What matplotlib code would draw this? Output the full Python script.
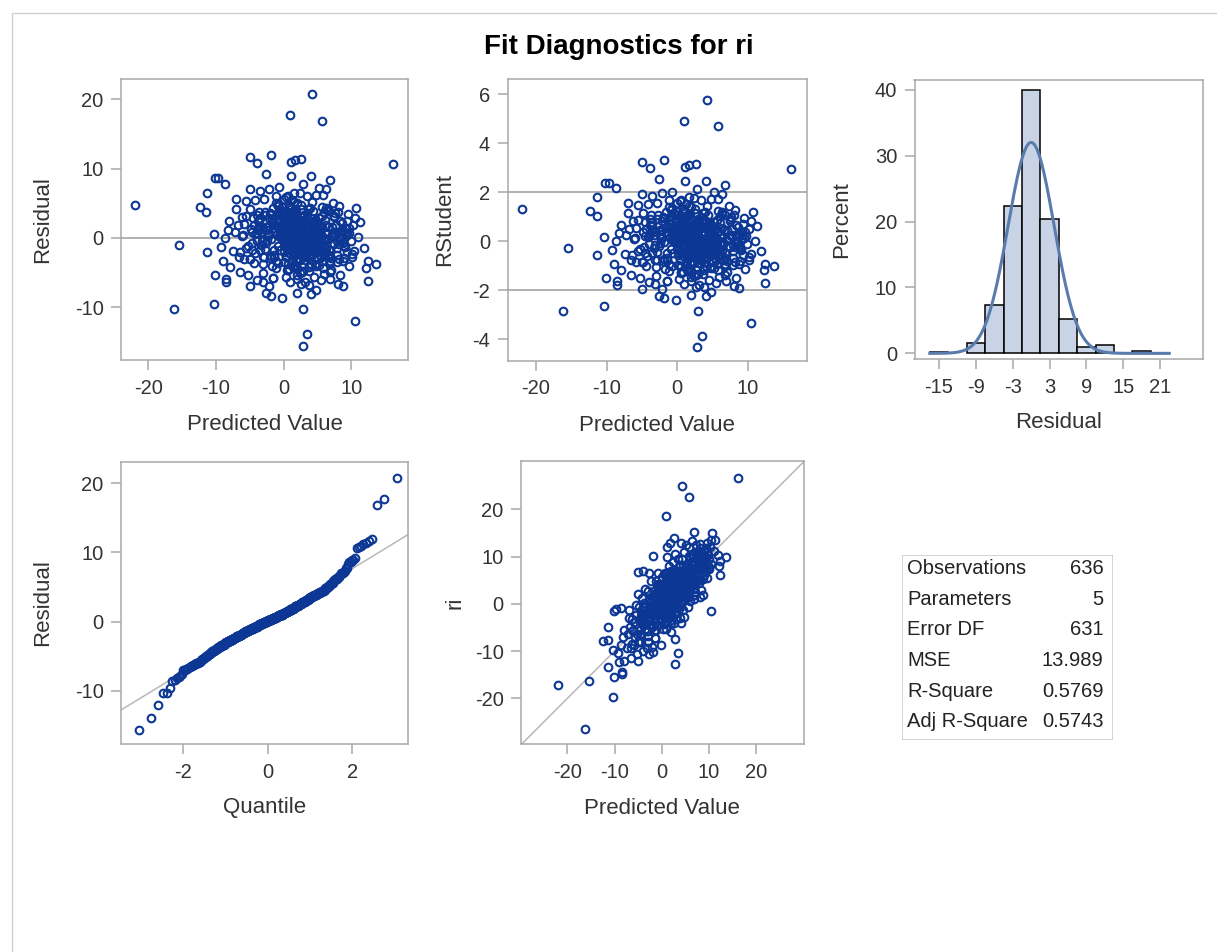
import numpy as np
import matplotlib.pyplot as plt
from matplotlib.patches import Rectangle
from statistics import NormalDist

# canvas in pixels
W, H, DPI = 1217, 952, 100

# points (outlying / ring points)
pred_outer = [4.2, 0.9, 5.7, 16.1, -21.9, -5.0, -3.9, -1.9, 1.1, 1.7, 2.6, -2.6, 1.1, 4.0, 6.8,
              -10.2, -9.7, -8.7, -11.3, -12.4, -11.4, -7.0, -5.0, -15.4, -10.3, -11.3, -9.2, -10.1,
              -8.5, -8.5, -5.0, -10.3, -16.2, -2.1, -2.6, -1.8, -0.2, 2.0, 2.9, 4.0, 4.8, 3.5, 2.8,
              10.5, 10.7, 9.5, 10.5, 11.3, 11.0, 11.8, 9.3, 12.4, 13.7, 12.2, 12.4, 8.7, 8.0, 6.9,
              6.3, 5.2, 2.8, -0.7, -2.2, -3.5, -5.5, -4.2, -7.0, -8.0, -8.2, -8.7, -9.0, -6.5, -5.3,
              -3.1, 0.9, 3.8, 6.8, 8.3, 8.7, 8.3, 9.0, 8.3, 6.3, 5.8, 4.8, 1.6,
              -6.8, -7.4, -6.2, -5.8, -7.9, -6.0, -5.6, -4.9, -6.6, -7.2,
              8.9, 9.6, 7.6, 9.9, 7.9, 10.2, 7.3, 9.2, 8.1, 10.1,
              -3.0, 0.3, 1.9, 4.5, 5.9, -1.5, -2.9, 0.4, 3.4, -1.2,
              5.5, 2.6, -4.0, -0.8, 4.2, 6.7, -3.7, -4.4]
resid_outer = [20.8, 17.7, 16.9, 10.6, 4.8, 11.7, 10.8, 12.0, 10.9, 11.2, 11.4, 9.2, 8.9, 8.9, 8.3,
               8.6, 8.6, 7.8, 6.5, 4.5, 3.7, 5.6, 7.0, -1.0, 0.6, -2.1, -1.3, -5.4,
               -5.9, -6.4, -7.0, -9.5, -10.3, -7.0, -8.0, -8.4, -8.6, -7.9, -10.3, -8.1, -7.5, -13.9, -15.6,
               -12.0, 4.3, 3.4, 2.9, 2.3, 0.1, -1.4, -2.1, -3.3, -3.7, -4.3, -6.2, -6.9, -6.6, -5.9,
               7.0, 7.2, 7.7, 7.3, 7.1, 6.7, 5.3, 5.4, 4.1, 2.4, 1.2, 0.0, -3.4, -4.9, -5.4,
               -6.3, -6.3, -6.8, -4.9, -5.4, -3.4, 0.9, 1.4, 2.4, 4.3, 6.2, 6.2, 6.5,
               1.8, -1.9, 3.0, -3.0, -4.2, 0.4, -1.5, 4.2, -2.8, 0.9,
               -1.2, -4.1, 3.6, -0.4, -2.4, 1.8, 5.1, 0.3, 4.6, -2.8,
               -5.1, -5.6, -5.9, -5.7, -5.2, -5.8, 5.6, 5.9, 6.0, 6.1,
               -6.1, -6.7, -6.0, 4.9, 5.2, 3.9, 3.8, -3.6]

# broad body of the cloud (estimated)
pred_mid = [-4.6, 7.9, -3.1, 8.6, -2.4, 6.8, -4.0, 9.1, -1.7, 7.4, -3.6, 8.2,
            5.9, -4.8, 7.1, -2.8, 8.9, -3.9, 6.4, -1.2, 7.7, -4.3, 9.4, -2.0,
            -3.3, 6.1, -4.9, 8.4, -2.6, 7.0, -3.8, 8.0, -1.5, 6.7, -4.2, 9.0,
            7.5, -3.0, 8.7, -4.5, 6.2, -2.2, 7.9, -3.5, 5.7, -1.9, 8.3, -4.7,
            0.5, 4.4, -0.8, 3.6, 1.4, 5.2, -0.2, 2.7, 6.0, 1.0, 4.8, -1.1,
            3.1, 0.2, 5.6, 2.0, -0.5, 4.1, 1.7, 6.5, 0.8, 3.9, -1.4, 2.4,
            -5.3, 9.7, -5.8, 10.1, -5.0, 9.3, -6.1, 8.8, -5.5, 10.4, -6.4, 9.6,
            1.9, 4.7, 0.1, 3.3, 5.1, 2.5, -0.9, 6.3, 1.2, 4.0, 2.9, 0.6]
resid_mid = [0.8, -1.5, -2.7, 2.1, 1.6, -3.4, -0.4, 0.9, -4.1, 3.0, 2.4, -0.9,
             -2.0, 1.3, 0.2, -1.6, -2.9, 3.3, 4.0, -4.4, 1.8, -2.2, 0.5, 3.6,
             -1.0, 2.6, -3.1, 0.0, -0.7, -4.6, 1.1, 3.8, 2.3, -2.5, 0.6, -1.3,
             3.2, -3.8, 1.0, 2.8, -0.3, 0.4, -3.5, -1.8, 4.4, -2.6, -0.2, -0.8,
             -4.7, 3.9, -3.6, 4.2, -4.2, -3.9, 3.4, -4.9, 3.7, 4.5, -4.0, -3.3,
             -3.2, 3.5, 3.1, -4.4, 4.1, -3.7, 3.9, -2.8, -4.5, 4.3, -2.4, -5.1,
             -1.1, 0.7, 2.0, -2.3, -3.0, 2.5, 0.3, -0.6, 3.1, -1.9, -2.1, 1.4,
             -3.0, 2.2, -2.0, -2.7, 1.9, 4.7, 2.7, -1.4, -3.4, 2.9, -4.8, 3.2]

# dense core of the cloud (estimated)
pred_core = [2.1, -1.4, 4.6, 0.3, 3.8, 1.2, 6.1, -2.7, 2.9, 0.8, 5.3, -0.6,
             3.4, 1.7, -3.2, 2.5, 7.0, 0.1, 4.1, 1.9, -1.1, 3.0, 5.8, 2.3,
             -0.2, 4.9, 1.5, 3.6, -2.1, 2.8, 6.6, 0.6, 3.3, -0.9, 1.0, 4.4,
             2.6, 7.6, -1.8, 1.3, 3.9, 0.4, 5.0, 2.0, -3.8, 4.2, 1.6, 3.1,
             0.9, 5.6, 2.4, -0.4, 3.7, 6.4, 1.1, -2.4, 2.7, 4.8, 0.2, 3.5,
             1.8, -1.6, 4.0, 2.2, 8.1, 0.5, 3.2, -0.8, 5.5, 1.4, 2.9, 6.9,
             -4.4, 2.0, 3.6, 0.7, 4.5, 1.9, -1.3, 5.2, 2.6, -0.1, 3.8, 7.3,
             1.2, 4.3, -2.9, 2.8, 0.0, 5.9, 3.1, 1.5, -0.5, 4.7, 2.3, 6.2,
             3.0, -1.9, 1.7, 4.1, 2.5, -3.5, 5.4, 0.8, 3.4, 1.0, 6.8, -0.3,
             2.2, 4.9, 0.3, 3.7, -2.2, 1.6, 5.1, 2.9, -1.0, 4.4, 0.6, 8.5,
             1.4, 3.3, -0.7, 6.0, 2.1, 4.6, -1.5, 0.9, 3.9, 2.4, 7.8, -2.6,
             0.4, 5.7, 2.7, -0.2, 4.2, 1.3, 3.5, 6.5, -3.0, 2.0, 4.0, 1.1,
             3.2, -1.2, 5.3, 0.1, 2.6, 4.8, 1.8, -4.0, 3.0, 7.1, 0.7, 2.4,
             -0.6, 4.5, 1.9, 3.6, 6.3, -2.0, 2.3, 0.5, 5.0, 1.5, -1.7, 3.8,
             2.8, 0.2, 4.1, -3.3, 1.7, 5.8, 3.1, -0.4, 2.2, 6.7, 1.0, 4.3,
             1.6, 3.4, -1.0, 2.5, 7.4, 0.8, 4.7, -2.5, 3.7, 1.2, 5.5, 0.0,
             4.0, -0.9, 2.9, 1.4, 6.0, -1.6, 3.3, 0.6, 5.2, 2.1, -4.6, 3.9,
             0.9, 2.7, 5.6, -0.3, 4.4, 1.8, -2.8, 3.0, 6.2, 2.4, 0.3, 4.9,
             2.0, -1.4, 3.5, 7.9, 1.1, 4.2, -0.7, 2.6, 5.0, 0.5, 3.2, -3.6,
             1.7, 4.6, 0.0, 2.9, -2.3, 5.4, 3.6, 1.3, 8.8, -1.1, 2.2, 4.1,
             2.4, 1.1, 3.6, 0.5, 2.9, 4.3, 1.8, 3.1, 0.2, 2.6, 4.9, 1.4,
             3.8, 0.7, 2.2, 5.1, 1.6, 3.4, -0.3, 2.8, 4.0, 1.0, 3.0, 2.0,
             0.9, 4.6, 2.5, 1.3, 3.7, 5.4, 0.4, 2.1, 3.3, 1.7, 4.4, -0.6,
             2.7, 3.9, 1.2, 0.0, 4.8, 2.3, 3.5, 1.9, 5.7, 0.6, 2.9, 4.1,
             1.5, 3.2, -0.9, 2.6, 4.5, 1.1, 3.6, 0.8, 2.4, 5.0, 1.8, 3.0,
             4.2, 0.3, 2.0, 3.8, 1.4, 6.0, 2.8, -0.4, 3.5, 1.6, 4.7, 2.2,
             0.7, 3.1, 5.3, 1.9, 2.5, 4.0, 1.0, 3.4]
resid_core = [0.4, -1.8, 2.6, -0.3, 1.1, -3.4, 0.9, 3.8, -0.7, -2.2, 1.7, 0.1,
              -1.2, 2.3, -0.5, 4.1, -2.9, 0.6, -1.5, 1.4, 3.1, -0.2, -4.3, 2.0,
              1.0, -0.8, -2.6, 0.3, 2.9, -1.1, 1.6, -3.7, 0.0, 4.6, -0.4, -1.9,
              -2.4, 0.7, 3.4, -1.6, 0.2, 1.9, -0.9, -3.1, 2.4, -0.1, 5.2, -1.3,
              2.1, -0.6, -1.9, 1.3, -4.8, 0.5, 3.6, -0.3, -2.0, 1.1, -1.0, 2.7,
              -0.2, 4.3, -1.4, 0.8, -3.0, 2.2, -0.7, 1.5, -2.7, 0.3, 3.0, -1.7,
              1.8, -3.3, 0.1, -1.0, 2.5, -5.3, 0.9, -0.5, 1.2, 3.9, -2.3, 0.4,
              -0.9, 1.6, -2.8, 0.6, 5.6, -1.2, 2.0, -3.9, 0.2, -0.4, 1.4, -2.1,
              3.3, -0.1, 1.0, -2.5, 0.7, 2.8, -1.6, 4.8, -0.8, 0.3, -3.6, 1.9,
              -1.5, 0.0, 2.4, -4.0, 1.7, -0.6, 0.5, -2.2, 3.5, -1.1, 6.0, 0.8,
              0.6, -2.0, 3.7, -0.3, -1.4, 1.2, -5.8, 2.3, 0.0, -3.2, 0.9, 1.5,
              -2.6, 0.2, 1.8, 4.4, -0.7, -1.9, 2.9, -0.2, 1.3, -4.5, 0.5, 3.2,
              0.0, 2.6, -1.1, -3.5, 1.0, -0.5, 4.0, 0.7, -2.4, 1.6, -0.9, 2.2,
              -1.8, 0.4, 5.0, -0.6, 1.9, -2.9, 0.8, 3.4, -1.3, -0.1, 2.7, -4.2,
              1.4, -0.4, -2.3, 0.9, 3.0, -1.0, -6.4, 1.8, 0.1, -1.7, 4.5, -0.8,
              -0.3, 3.6, 0.6, -2.1, -0.9, 2.0, -3.8, 1.1, 0.3, 5.4, -1.5, 0.7,
              2.3, -1.2, 0.0, 3.9, -2.6, 1.4, -0.4, -4.6, 2.8, 0.5, -1.8, 1.0,
              -0.7, 1.7, -3.3, 0.2, 2.1, -1.4, 3.3, -0.2, -2.0, 6.4, 0.6, -1.1,
              0.8, -2.7, 1.2, -0.5, 4.2, -1.6, 0.3, 2.5, -3.0, 0.0, -0.6, 1.6,
              -4.1, 0.9, 2.2, -1.3, 0.4, -2.5, 1.0, 3.7, -0.8, 5.0, -1.9, 0.1,
              0.3, -0.8, 1.2, -1.5, 0.6, -0.2, 1.9, -1.0, 0.9, -2.1, 0.1, 1.4,
              -0.6, 2.2, -1.3, 0.4, -0.1, -1.8, 1.0, 2.6, -0.9, 0.5, -2.4, 1.6,
              -0.4, 0.8, -1.1, 1.8, 0.0, -0.7, -2.8, 1.3, -0.3, 2.9, -1.6, 0.7,
              1.1, -0.5, 0.2, -1.2, 2.0, -2.2, 0.9, -0.1, 1.5, -1.4, 3.1, -0.8,
              0.6, -2.6, 1.7, -0.4, 0.3, 2.4, -1.9, 0.0, -0.9, 1.2, -3.0, 0.8,
              -1.1, 1.9, 0.5, -1.7, 2.8, -0.2, -1.0, 0.4, 1.4, -2.0, 0.1, -0.6,
              2.3, -1.3, 0.7, -0.3, 1.0, -2.5, 1.6, -0.7]

# residual histogram (percent per bin of width 3)
hist_mid = [-15, -12, -9, -6, -3, 0, 3, 6, 9, 12, 15, 18, 21]
hist_pct = [0.2, 0.0, 1.5, 7.4, 22.3, 40.0, 20.4, 5.2, 1.0, 1.2, 0.0, 0.3, 0.0]
hist_ticks = [-15, -9, -3, 3, 9, 15, 21]

# fit statistics table
fit_labels = ["Observations", "Parameters", "Error DF", "MSE", "R-Square", "Adj R-Square"]
fit_values = ["636", "5", "631", "13.989", "0.5769", "0.5743"]
mse = 13.989
rstud_scale = 3.6

pred = np.array(pred_outer + pred_mid + pred_core)
resid = np.array(resid_outer + resid_mid + resid_core)
rstud = resid / rstud_scale
actual = pred + resid

plt.rcParams['font.family'] = ['Liberation Sans', 'DejaVu Sans']
plt.rcParams['axes.unicode_minus'] = False
BLUE = '#0d3795'
FRAME = '#a8a8a8'
REF = '#9c9c9c'
TXT = '#333333'

fig = plt.figure(figsize=(W / DPI, H / DPI), dpi=DPI)


def px_axes(left, top, right, bottom):
    ax = fig.add_axes([left / W, 1 - bottom / H, (right - left) / W, (bottom - top) / H])
    for s in ax.spines.values():
        s.set_color(FRAME)
        s.set_linewidth(1.1)
    ax.tick_params(length=7.5, width=1.1, color=FRAME, labelcolor=TXT, labelsize=14.5)
    ax.tick_params(axis='x', pad=6)
    ax.tick_params(axis='y', pad=5)
    return ax


def labels(ax, xl, yl, xy, yx):
    ax.set_xlabel(xl, fontsize=16, color=TXT, va='center')
    ax.set_ylabel(yl, fontsize=16, color=TXT, va='center')
    ax.xaxis.set_label_coords(0.5, xy)
    ax.yaxis.set_label_coords(yx, 0.5)


def dots(ax, x, y):
    ax.plot(x, y, 'o', mfc='none', mec=BLUE, ms=5.5, mew=1.5, zorder=3)


# residual vs predicted
ax1 = px_axes(121, 79, 408, 360)
ax1.axhline(0, color=REF, lw=1.1, zorder=1)
dots(ax1, pred, resid)
ax1.set_xlim(-24.0, 18.35)
ax1.set_ylim(-17.6, 22.9)
ax1.set_xticks([-20, -10, 0, 10])
ax1.set_yticks([-10, 0, 10, 20])
labels(ax1, "Predicted Value", "Residual", -0.231, -0.272)

# rstudent vs predicted
ax2 = px_axes(507.5, 79, 807, 360.5)
ax2.axhline(2, color=REF, lw=1.1, zorder=1)
ax2.axhline(-2, color=REF, lw=1.1, zorder=1)
dots(ax2, pred, rstud)
ax2.set_xlim(-24.0, 18.35)
ax2.set_ylim(-4.87, 6.62)
ax2.set_xticks([-20, -10, 0, 10])
ax2.set_yticks([-4, -2, 0, 2, 4, 6])
labels(ax2, "Predicted Value", "RStudent", -0.231, -0.209)

# residual histogram with normal curve
ax3 = px_axes(914.5, 80.5, 1203, 359.3)
keep = [i for i, p in enumerate(hist_pct) if p > 0]
ax3.bar([hist_mid[i] for i in keep], [hist_pct[i] for i in keep], width=3,
        color='#c8d4e6', edgecolor='black', linewidth=1.1, zorder=2)
sd = np.sqrt(mse)
xs = np.linspace(-16.5, 22.5, 400)
ys = 100 * 3 * np.exp(-0.5 * (xs / sd) ** 2) / (sd * np.sqrt(2 * np.pi))
ax3.plot(xs, ys, color='#5a7cad', lw=2.2, zorder=3)
ax3.set_xlim(-19.0, 28.0)
ax3.set_ylim(-0.9, 41.4)
ax3.set_xticks(hist_ticks)
ax3.set_yticks([0, 10, 20, 30, 40])
labels(ax3, "Residual", "Percent", -0.228, -0.252)

# normal quantile plot
ax4 = px_axes(121, 461.7, 408, 744.3)
srt = np.sort(resid)
n = len(srt)
quant = [NormalDist().inv_cdf((i + 1 - 0.375) / (n + 0.25)) for i in range(n)]
ax4.axline((0, np.mean(resid)), slope=sd, color='#b8b8b8', lw=1.1, zorder=1)
dots(ax4, quant, srt)
ax4.set_xlim(-3.46, 3.31)
ax4.set_ylim(-17.7, 23.1)
ax4.set_xticks([-2, 0, 2])
ax4.set_yticks([-10, 0, 10, 20])
labels(ax4, "Quantile", "Residual", -0.225, -0.272)

# observed vs predicted
ax5 = px_axes(521, 461, 803.5, 744.3)
ax5.axline((0, 0), (1, 1), color='#b8b8b8', lw=1.1, zorder=1)
dots(ax5, pred, actual)
ax5.set_xlim(-29.8, 30.0)
ax5.set_ylim(-29.7, 30.2)
ax5.set_xticks([-20, -10, 0, 10, 20])
ax5.set_yticks([-20, -10, 0, 10, 20])
labels(ax5, "Predicted Value", "ri", -0.225, -0.234)

# fit statistics box
ax6 = fig.add_axes([902.3 / W, 1 - 740 / H, (1112.7 - 902.3) / W, (740 - 555) / H])
ax6.set_xlim(902.3, 1112.7)
ax6.set_ylim(740, 555)
ax6.axis('off')
ax6.add_patch(Rectangle((902.3, 555), 210.4, 185, fill=False, ec='#c8c8c8', lw=1.1))
for i, (lab, val) in enumerate(zip(fit_labels, fit_values)):
    yy = 568.3 + 30.7 * i
    ax6.text(907.3, yy, lab, fontsize=14.5, color='#222222', va='center', ha='left')
    ax6.text(1103.3, yy, val, fontsize=14.5, color='#222222', va='center', ha='right')

fig.text(619 / W, 1 - 47 / H, "Fit Diagnostics for ri", fontsize=20, fontweight='bold',
         ha='center', va='center', color='black')

# outer frame of the graph
fig.add_artist(Rectangle((12 / W, -0.1), 1.2, 1 - 13 / H + 0.1, transform=fig.transFigure,
                         fill=False, ec='#d0d0d0', lw=1.0))

fig.savefig('out.png', dpi=DPI)
